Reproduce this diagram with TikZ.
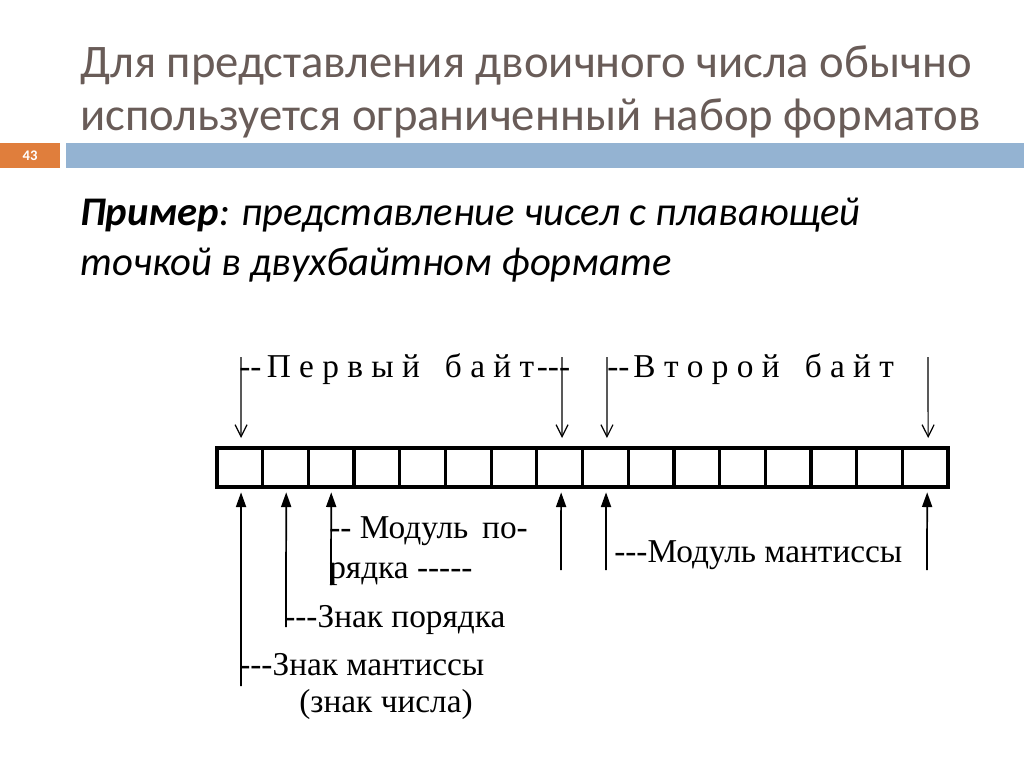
\documentclass[tikz,border=0pt]{standalone}
\usepackage{fontspec}
\setmainfont{Carlito}
\newfontfamily\tnr{Liberation Serif}
\usetikzlibrary{arrows.meta}
\definecolor{titlegray}{RGB}{105,92,88}
\definecolor{barblue}{RGB}{148,179,210}
\definecolor{barorange}{RGB}{224,126,60}
\begin{document}
\begin{tikzpicture}[x=0.75pt,y=-0.75pt,
  cell/.style={draw, line width=2.4pt, minimum width=34.27pt, minimum height=29.25pt, inner sep=0pt, outer sep=0pt},
  dlab/.style={font=\tnr\fontsize{25}{29}\selectfont, anchor=base west, inner sep=0pt},
  downarr/.style={-{Straight Barb[length=9pt,width=9pt]}, line width=0.9pt},
  uparr/.style={-{Stealth[length=11pt,width=7.5pt,inset=0pt]}, line width=1.3pt},
  title/.style={font=\fontsize{35}{40}\selectfont, text=titlegray, anchor=base west, inner sep=0pt},
  body/.style={font=\fontsize{30.5}{36}\selectfont, text=black, anchor=base west, inner sep=0pt}
]
\useasboundingbox (0,0) rectangle (1024,768);
\fill[white] (0,0) rectangle (1024,768);

% title
\node[title] (t1) at (80,77) {Для представления двоичного числа обычно};
\node[title] (t2) at (80,130) {используется ограниченный набор форматов};

% bar
\fill[barorange] (0,143) rectangle (60,168);
\node[font=\bfseries\fontsize{11}{12}\selectfont, text=white] (num) at (30,156) {43};
\fill[barblue] (66,143) rectangle (1024,168);

% body text
\node[body] (b1) at (80,225) {\textbf{\textit{Пример}}\textit{:\kern-1pt{} представление чисел с плавающей}};
\node[body] (b2) at (80,275) {\textit{точкой в двухбайтном формате}};

% cells
\foreach \k in {1,...,16} {
  \node[cell] (c\k) at ({217+(\k-0.5)*45.69},467.5) {};
}

% top labels
\node[dlab] (byte1) at (239,377) {--\kern4pt{}П е р в ы й\hspace{0.5em} б а й т\kern2pt{}---};
\node[dlab] (byte2) at (607,377) {--\kern3pt{}В т о р о й\hspace{0.5em} б а й т};

% down arrows
\coordinate (d1) at (241,357);
\coordinate (d8) at (562,357);
\coordinate (d9) at (607,357);
\coordinate (d16) at (928,357);
\draw[downarr] (d1) -- ([xshift=0.9pt,yshift=7.5pt]c1.north);
\draw[downarr] (d8) -- ([xshift=1.8pt,yshift=7.5pt]c8.north);
\draw[downarr] (d9) -- ([xshift=1.2pt,yshift=7.5pt]c9.north);
\draw[downarr] (d16) -- ([xshift=2.2pt,yshift=7.5pt]c16.north);

% up arrows
\coordinate (u1) at (241,686);
\coordinate (u2) at (286,627);
\coordinate (u3) at (331,585);
\coordinate (u8) at (561,570);
\coordinate (u9) at (606,570);
\coordinate (u16) at (927,570);
\draw[uparr] (u1) -- ([xshift=0.9pt,yshift=-4pt]c1.south);
\draw[uparr] (u2) -- ([xshift=0.5pt,yshift=-4pt]c2.south);
\draw[uparr] (u3) -- ([xshift=0.0pt,yshift=-4pt]c3.south);
\draw[uparr] (u8) -- ([xshift=1.1pt,yshift=-4pt]c8.south);
\draw[uparr] (u9) -- ([xshift=0.5pt,yshift=-4pt]c9.south);
\draw[uparr] (u16) -- ([xshift=1.5pt,yshift=-4pt]c16.south);

% bottom labels
\node[dlab] (l3a) at (329,538) {-- Модуль\, по-};
\node[dlab] (l3b) at (329,578) {рядка -----};
\node[dlab] (l2) at (284,627) {---Знак порядка};
\node[dlab] (l1) at (239,675) {---Знак мантиссы};
\node[dlab, anchor=base] (l1b) at (386,712) {(знак числа)};
\node[dlab] (l9) at (614,562) {---Модуль мантиссы};
\end{tikzpicture}
\end{document}
